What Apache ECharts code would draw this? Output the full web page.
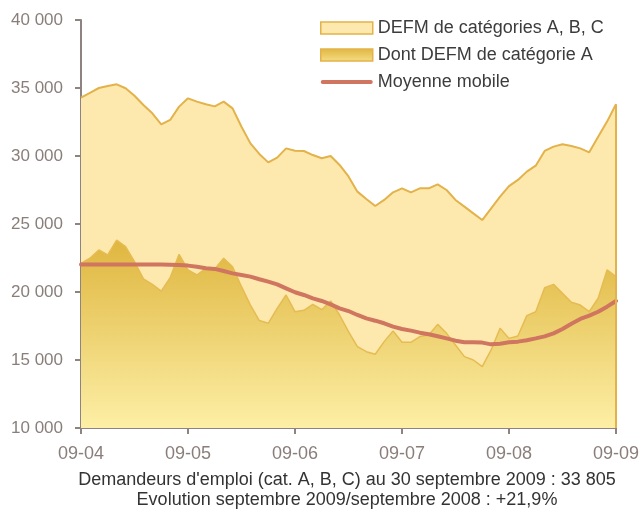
<!DOCTYPE html>
<html><head><meta charset="utf-8">
<script src="https://cdn.jsdelivr.net/npm/echarts@6/dist/echarts.min.js"></script>
<style>html,body{margin:0;padding:0;background:#fff}#c{width:642px;height:511px}</style>
</head><body><div id="c"></div>
<script>
const categories = [
 "09-04","10-04","11-04","12-04","01-05","02-05","03-05","04-05","05-05","06-05","07-05","08-05",
 "09-05","10-05","11-05","12-05","01-06","02-06","03-06","04-06","05-06","06-06","07-06","08-06",
 "09-06","10-06","11-06","12-06","01-07","02-07","03-07","04-07","05-07","06-07","07-07","08-07",
 "09-07","10-07","11-07","12-07","01-08","02-08","03-08","04-08","05-08","06-08","07-08","08-08",
 "09-08","10-08","11-08","12-08","01-09","02-09","03-09","04-09","05-09","06-09","07-09","08-09",
 "09-09"];
const defmABC = [
 34300,34650,35000,35150,35270,34980,34430,33750,33140,32330,32650,33630,
 34240,34000,33800,33650,34000,33500,32150,30930,30150,29530,29880,30560,
 30390,30370,30070,29830,30000,29340,28500,27380,26840,26320,26770,27330,
 27620,27330,27620,27620,27920,27500,26770,26280,25780,25290,26150,27010,
 27790,28240,28850,29290,30370,30690,30860,30740,30560,30270,31420,32530,
 33805];
const defmA = [
 22110,22480,23090,22720,23820,23330,22230,20960,20560,20070,21050,22770,
 21620,21250,21740,21700,22480,21860,20390,19040,17900,17700,18800,19780,
 18550,18650,19090,18700,19340,18310,17080,15980,15610,15420,16350,17130,
 16300,16300,16720,16840,17620,16960,16100,15250,15000,14510,15740,17330,
 16590,16770,18260,18550,20320,20560,19900,19240,19040,18550,19540,21620,
 21130];
const moyenne = [
 22030,22030,22030,22030,22030,22030,22030,22030,22030,22030,22010,21980,
 21940,21860,21740,21700,21540,21370,21250,21130,20940,20760,20560,20270,
 19980,19780,19530,19340,19090,18800,18600,18310,18060,17890,17700,17450,
 17280,17160,17010,16890,16750,16590,16420,16300,16300,16280,16150,16200,
 16300,16350,16450,16590,16740,16960,17280,17670,18020,18260,18550,18920,
 19340];
const yTicks = [10000,15000,20000,25000,30000,35000,40000];
const seriesNames = ["DEFM de catégories A, B, C","Dont DEFM de catégorie A","Moyenne mobile"];
const footLines = ["Demandeurs d'emploi (cat. A, B, C) au 30 septembre 2009 : 33 805",
                   "Evolution septembre 2009/septembre 2008 : +21,9%"];

const chart = echarts.init(document.getElementById('c'), null, {renderer:'canvas'});
const axisGray = '#8e8380';
const goldGrad = new echarts.graphic.LinearGradient(0,0,0,1,[{offset:0,color:'#dfb63f'},{offset:1,color:'#fdefa6'}]);
const fmt = v => String(v).replace(/\B(?=(\d{3})+(?!\d))/g,' ');
const fontFam = 'Liberation Sans, Arial, sans-serif';
chart.setOption({
  animation:false,
  textStyle:{fontFamily:fontFam},
  grid:{left:81,right:25,top:20,bottom:83,containLabel:false},
  legend:{
    orient:'vertical',left:315,top:14,itemWidth:52,itemHeight:12,itemGap:9,
    textStyle:{fontSize:18,color:'#3c3c3c'},
    data:[
      {name:seriesNames[0],icon:'rect',itemStyle:{color:'#fde9ad',borderColor:'#e3b24a',borderWidth:1.5}},
      {name:seriesNames[1],icon:'rect',itemStyle:{color:new echarts.graphic.LinearGradient(0,0,0,1,[{offset:0,color:'#dfb63f'},{offset:1,color:'#f6dd85'}]),borderColor:'#e3b24a',borderWidth:1.5}},
      {name:seriesNames[2],icon:'path://M2,0 L52,0 A2,2 0 0 1 52,4 L2,4 A2,2 0 0 1 2,0 Z',itemStyle:{color:'#cf7560',borderWidth:0}}
    ]
  },
  xAxis:{
    type:'category',data:categories,boundaryGap:false,
    axisLine:{lineStyle:{color:axisGray,width:2}},
    axisTick:{interval:11,length:6,lineStyle:{color:axisGray,width:2}},
    axisLabel:{interval:11,color:'#8a7e7a',fontSize:18,margin:17,showMaxLabel:true}
  },
  yAxis:{
    type:'value',min:yTicks[0],max:yTicks[yTicks.length-1],interval:5000,
    splitLine:{show:false},
    axisLine:{show:true,lineStyle:{color:axisGray,width:2}},
    axisTick:{show:true,length:6,lineStyle:{color:axisGray,width:2}},
    axisLabel:{color:'#8a7e7a',fontSize:17,margin:18,formatter:fmt}
  },
  series:[
    {name:seriesNames[0],type:'line',data:defmABC,symbol:'none',z:1,
     lineStyle:{color:'#e3b24a',width:2},itemStyle:{color:'#e3b24a'},
     areaStyle:{color:'#fde9ad',opacity:1},
     markLine:{silent:true,symbol:'none',label:{show:false},lineStyle:{color:'#e3b24a',width:2,type:'solid'},
       data:[[{coord:[categories.length-1,yTicks[0]]},{coord:[categories.length-1,defmABC[defmABC.length-1]]}]]}
    },
    {name:seriesNames[1],type:'line',data:defmA,symbol:'none',z:2,
     lineStyle:{color:'#e6bb52',width:1.5},itemStyle:{color:'#e0b444'},
     areaStyle:{color:goldGrad,opacity:1}},
    {name:seriesNames[2],type:'line',data:moyenne,symbol:'none',z:3,
     lineStyle:{color:'#cf7560',width:4,cap:'round'},itemStyle:{color:'#cf7560'}}
  ],
  graphic:[
    {type:'text',x:347,y:480,style:{text:footLines[0],fill:'#333',font:'18px '+fontFam,align:'center',verticalAlign:'middle'}},
    {type:'text',x:347,y:500,style:{text:footLines[1],fill:'#333',font:'18px '+fontFam,align:'center',verticalAlign:'middle'}}
  ]
});
</script></body></html>
